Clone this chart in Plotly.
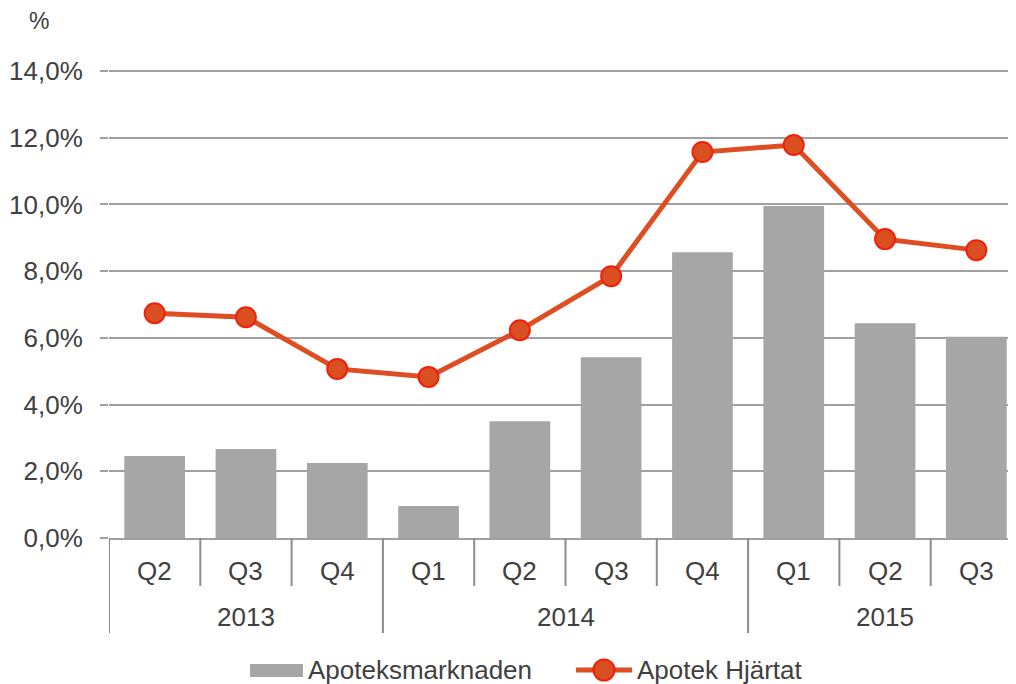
import plotly.graph_objects as go

years = ["2013", "2013", "2013", "2014", "2014", "2014", "2014", "2015", "2015", "2015"]
quarters = ["Q2", "Q3", "Q4", "Q1", "Q2", "Q3", "Q4", "Q1", "Q2", "Q3"]
market = [2.46, 2.67, 2.25, 0.96, 3.50, 5.42, 8.57, 9.95, 6.44, 6.03]
hjartat = [6.74, 6.62, 5.07, 4.83, 6.23, 7.85, 11.57, 11.78, 8.96, 8.63]
y_ticks = [0, 2, 4, 6, 8, 10, 12, 14]
y_tick_labels = ["0,0%", "2,0%", "4,0%", "6,0%", "8,0%", "10,0%", "12,0%", "14,0%"]
series_names = ["Apoteksmarknaden", "Apotek Hjärtat"]

FONT = "Liberation Sans, Arial, sans-serif"
TXT = "#404040"
AXIS = "#8C8C8C"
GRID = "#A0A0A0"
BAR = "#A6A6A6"
LINE = "#DE4E22"
MK_FILL = "#DA4F22"
MK_EDGE = "#F0200A"

# page body has an 8px default margin: figure occupies window pixels 8..1016, 8..684
OFF = 8
WIN_W, WIN_H = 1016, 684
W, H = WIN_W - OFF, WIN_H - OFF
# plot area in window pixels
L_WIN, T_WIN, B_WIN = 109, 68, 538
Y0_PX, Y14_PX = 538, 71
ymax = 14 + (Y14_PX - T_WIN) / ((Y0_PX - Y14_PX) / 14)
CAT_W = 91.3
PW, PH = WIN_W - L_WIN, B_WIN - T_WIN


def px_x(p):
    return (p - L_WIN) / PW


def px_y(p):
    return (B_WIN - p) / PH


cats = [f"{y} {q}" for y, q in zip(years, quarters)]
n = len(cats)

fig = go.Figure()
fig.add_trace(go.Bar(
    x=cats, y=market, name=series_names[0],
    marker=dict(color=BAR, line=dict(width=0)),
))
fig.add_trace(go.Scatter(
    x=cats, y=hjartat, name=series_names[1], mode="lines+markers",
    line=dict(color=LINE, width=5),
    marker=dict(size=20, color=MK_FILL, line=dict(color=MK_EDGE, width=2)),
))

shapes = []
annotations = []
# quarter labels
for i, q in enumerate(quarters):
    annotations.append(dict(text=q, x=i, xref="x", y=px_y(571), yref="paper",
                            showarrow=False, xanchor="center", yanchor="middle",
                            font=dict(size=26, color=TXT)))
# boundaries between quarters (short) and between years (long)
for i in range(n + 1):
    b = i - 0.5
    is_year = i == 0 or i == n or years[i] != years[i - 1]
    shapes.append(dict(type="line", xref="x", yref="paper", x0=b, x1=b,
                       y0=0, y1=px_y(633) if is_year else px_y(586),
                       line=dict(color=AXIS, width=2)))
# year labels
start = 0
for i in range(1, n + 1):
    if i == n or years[i] != years[start]:
        annotations.append(dict(text=years[start], x=(start + i - 1) / 2, xref="x",
                                y=px_y(617), yref="paper", showarrow=False,
                                xanchor="center", yanchor="middle",
                                font=dict(size=26, color=TXT)))
        start = i

# y-axis unit
annotations.append(dict(text="%", xref="paper", yref="paper", x=px_x(39), y=px_y(21),
                        xanchor="center", yanchor="middle", showarrow=False,
                        font=dict(size=23, color=TXT)))

# legend (drawn)
LEG_Y = 670
shapes.append(dict(type="rect", xref="paper", yref="paper",
                   x0=px_x(250), x1=px_x(303), y0=px_y(677), y1=px_y(664),
                   fillcolor=BAR, line=dict(width=0)))
annotations.append(dict(text=series_names[0], xref="paper", yref="paper",
                        x=px_x(306), y=px_y(LEG_Y), xanchor="left", yanchor="middle",
                        showarrow=False, font=dict(size=26, color=TXT)))
shapes.append(dict(type="line", xref="paper", yref="paper",
                   x0=px_x(576), x1=px_x(632), y0=px_y(LEG_Y), y1=px_y(LEG_Y),
                   line=dict(color=LINE, width=5)))
shapes.append(dict(type="circle", xref="paper", yref="paper",
                   x0=px_x(604 - 10.5), x1=px_x(604 + 10.5),
                   y0=px_y(LEG_Y + 10.5), y1=px_y(LEG_Y - 10.5),
                   fillcolor=MK_FILL, line=dict(color=MK_EDGE, width=2)))
annotations.append(dict(text=series_names[1], xref="paper", yref="paper",
                        x=px_x(635), y=px_y(LEG_Y), xanchor="left", yanchor="middle",
                        showarrow=False, font=dict(size=26, color=TXT)))

fig.update_layout(
    width=W, height=H,
    margin=dict(l=L_WIN - OFF, r=0, t=T_WIN - OFF, b=WIN_H - B_WIN, pad=0,
                autoexpand=False),
    plot_bgcolor="white", paper_bgcolor="white",
    font=dict(family=FONT, size=26, color=TXT),
    bargap=0.335,
    showlegend=False,
    xaxis=dict(
        type="category", categoryorder="array", categoryarray=cats,
        range=[-0.5, -0.5 + PW / CAT_W],
        showticklabels=False, ticks="",
        showline=True, linecolor=GRID, linewidth=2,
        showgrid=False, zeroline=False, automargin=False,
    ),
    yaxis=dict(
        range=[0, ymax], tickvals=y_ticks, ticktext=y_tick_labels,
        showgrid=True, gridcolor=GRID, gridwidth=2,
        showline=False,
        ticks="outside", ticklen=8, tickcolor=GRID, tickwidth=2,
        ticklabelstandoff=12,
        tickfont=dict(size=26, color=TXT),
        zeroline=False, automargin=False,
    ),
    shapes=shapes,
    annotations=annotations,
)

fig.write_html("out.html")
